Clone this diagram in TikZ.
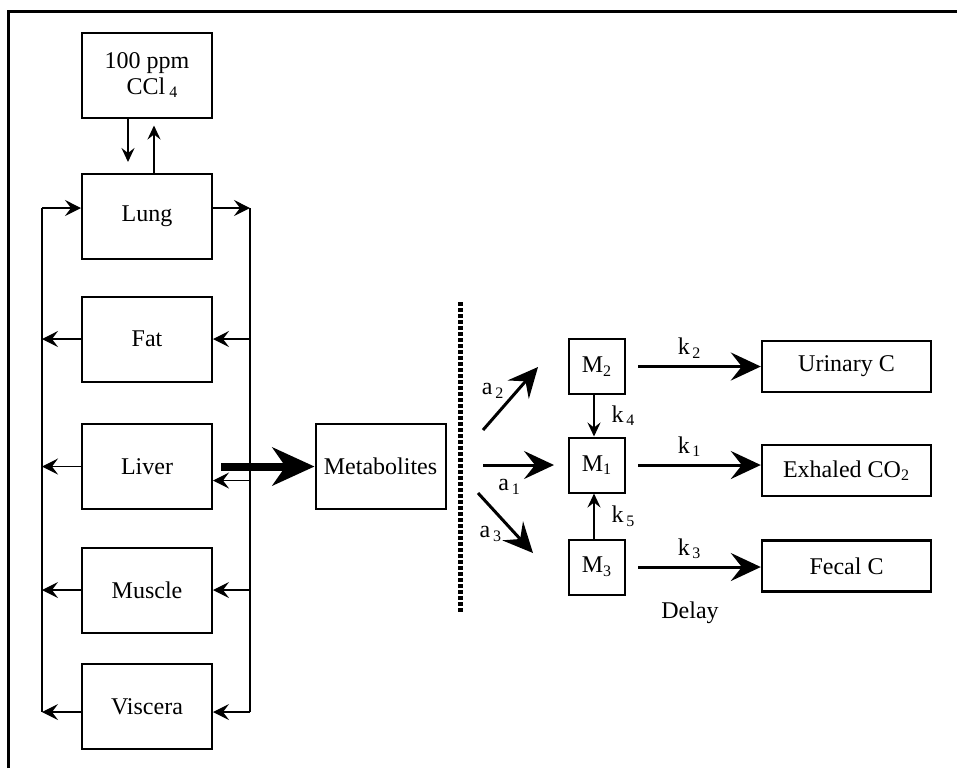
\documentclass[tikz,border=0pt]{standalone}
\usepackage{fontspec}
\setmainfont{Liberation Serif}
\usetikzlibrary{arrows.meta, positioning}

\begin{document}
\begin{tikzpicture}[
  x=0.5pt, y=-0.5pt,
  font=\fontsize{12}{13}\selectfont,
  box/.style={
    rectangle, draw, line width=1pt,
    minimum width=65pt, minimum height=42.5pt,
    inner sep=2pt
  },
  pool/.style={rectangle, draw, line width=1pt, minimum width=28pt, minimum height=27.5pt, inner sep=1pt},
  sink/.style={rectangle, draw, line width=1.2pt, minimum width=84.5pt, minimum height=25.5pt},
  bus/.style={line width=0.9pt},
  busarrow/.style={-{Stealth[length=8pt, width=8pt, inset=3pt]}, line width=0.6pt},
  gas/.style={-{Stealth[length=7pt, width=6.5pt, inset=2.5pt]}, line width=1pt},
  rate/.style={-{Stealth[length=15pt, width=14pt, inset=5.5pt]}, line width=1.5pt},
  transfer/.style={-{Stealth[length=7pt, width=6.5pt, inset=2.5pt]}, line width=1pt},
  bigarrow/.style={-{Stealth[length=21pt, width=19pt, inset=6.5pt]}, line width=4pt},
  divider/.style={line width=2.5pt, dash pattern=on 2pt off 1pt}
]
  \useasboundingbox (0,0) rectangle (957,768);
  \draw[line width=1.5pt] (8,768) -- (8,11) -- (957,11);

  \node[box, align=left] (src) at (147,75) {100 ppm\\\hspace*{11pt}CCl\,\textsubscript{4}};
  \node[box] (lung) at (147,216.5) {Lung};
  \node[box] (fat) at (147,339) {Fat};
  \node[box] (liver) at (147,466.5) {Liver};
  \node[box] (muscle) at (147,590) {Muscle};
  \node[box] (viscera) at (147,706.5) {Viscera};
  \node[box] (metab) at (380.5,466.5) {Metabolites};
  \node[pool] (m2) at (597,366.5) {M\textsubscript{2}};
  \node[pool] (m1) at (597,465) {M\textsubscript{1}};
  \node[pool] (m3) at (597,567) {M\textsubscript{3}};
  \node[sink] (urin) at (846.5,366.5) {Urinary C};
  \node[sink] (exh) at (846.5,470.5) {Exhaled CO\textsubscript{2}};
  \node[sink] (fecal) at (846.5,566) {Fecal C};
  \node (delay) at (690,613) {Delay};

  \coordinate (ltop) at (42,208);
  \coordinate (lbot) at (42,712);
  \coordinate (rtop) at (250,208);
  \coordinate (rbot) at (250,712);
  \coordinate (lvin) at ([yshift=-7pt]liver.east);
  \coordinate (dtop) at (460,302);
  \coordinate (dbot) at (460,612);
  \coordinate (a1s) at (483,465);
  \coordinate (a2s) at (483,430);
  \coordinate (a2e) at (538,367);
  \coordinate (a3s) at (478,493);
  \coordinate (a3e) at (533,553);

  \draw[gas] ([xshift=-9.5pt]src.south) -- ([xshift=-9.5pt, yshift=5.5pt]lung.north);
  \draw[gas] ([xshift=3.5pt]lung.north) -- ([xshift=3.5pt, yshift=-3.5pt]src.south);

  \draw[bus] (ltop) -- (lbot);
  \draw[bus] (rtop) -- (rbot);
  \draw[busarrow] (ltop) -- (ltop -| lung.west);
  \draw[busarrow] (lung.east |- rtop) -- (rtop);
  \draw[busarrow] (fat.west) -- (fat.west -| ltop);
  \draw[busarrow] (fat.east -| rtop) -- (fat.east);
  \draw[busarrow] (liver.west) -- (liver.west -| ltop);
  \draw[busarrow] (lvin -| rtop) -- (lvin);
  \draw[busarrow] (muscle.west) -- (muscle.west -| ltop);
  \draw[busarrow] (muscle.east -| rtop) -- (muscle.east);
  \draw[busarrow] (lbot -| viscera.west) -- (lbot);
  \draw[busarrow] (rbot) -- (rbot -| viscera.east);

  \draw[bigarrow] ([xshift=4pt]liver.east) -- (metab.west);
  \draw[divider] (dtop) -- (dbot);

  \draw[rate] (a2s) -- node[above left, pos=0.45, inner sep=1pt] {a\textsubscript{\,2}} (a2e);
  \draw[rate] (a1s) -- node[below, pos=0.375, yshift=-3pt] {a\textsubscript{\,1}} ([xshift=-7pt]m1.west);
  \draw[rate] (a3s) -- node[below left, pos=0.5, inner sep=1pt] {a\textsubscript{\,3}} (a3e);

  \draw[rate] ([xshift=6pt]m2.east) -- node[above, pos=0.42] {k\textsubscript{\,2}} (urin.west);
  \draw[rate] ([xshift=6pt]m1.east) -- node[above, pos=0.42] {k\textsubscript{\,1}} (m1.east -| exh.west);
  \draw[rate] ([xshift=6pt]m3.east) -- node[above, pos=0.42] {k\textsubscript{\,3}} (m3.east -| fecal.west);
  \draw[transfer] ([xshift=-1.5pt]m2.south) -- node[right, xshift=5pt] {k\textsubscript{\,4}} ([xshift=-1.5pt]m1.north);
  \draw[transfer] ([xshift=-1.5pt]m3.north) -- node[right, xshift=5pt] {k\textsubscript{\,5}} ([xshift=-1.5pt]m1.south);
\end{tikzpicture}
\end{document}
